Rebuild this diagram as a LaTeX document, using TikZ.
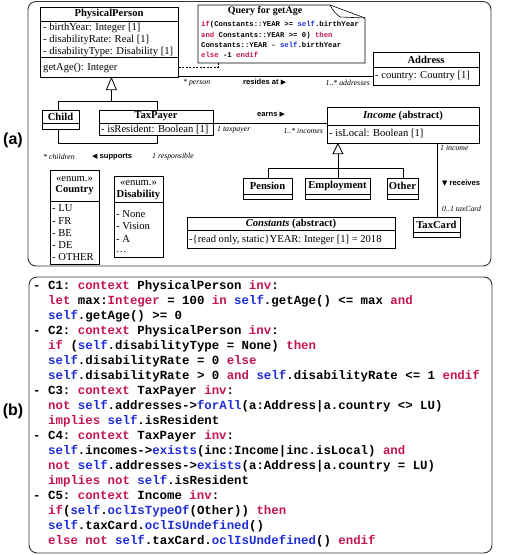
\documentclass[tikz,border=0pt]{standalone}
\usepackage{fontspec}
\setmainfont{Liberation Serif}
\newfontfamily\lsans{Liberation Sans}
\newfontfamily\dvs{DejaVu Sans}
\newfontfamily\cdfont[WordSpace={1,0,0}]{Liberation Mono}
\usetikzlibrary{calc}
\definecolor{kw}{RGB}{196,22,78}
\definecolor{bl}{RGB}{30,45,214}
\newcommand\K[1]{\textcolor{kw}{#1}}
\newcommand\B[1]{\textcolor{bl}{#1}}
\newcommand\clsf{\fontsize{10.6}{12}\selectfont}
\newcommand\rolef{\fontsize{7.8}{9}\selectfont\itshape}
\newcommand\assf{\lsans\bfseries\fontsize{7.6}{9}\selectfont}
\newcommand\trif{\dvs\fontsize{7}{9}\selectfont}
\tikzset{
  cls/.style={draw, line width=0.8pt, inner sep=0pt, anchor=north west},
  ln/.style={line width=0.8pt},
  tx/.style={inner sep=0pt, anchor=west, font=\clsf},
  tt/.style={inner sep=0pt, anchor=center, font=\clsf\bfseries},
  role/.style={inner sep=0pt, anchor=west, font=\rolef},
  ass/.style={inner sep=0pt, anchor=west, font=\assf},
  frame/.style={draw=black!80, line width=0.9pt, rounded corners=8pt},
  code/.style={inner sep=0pt, anchor=west, text height=8pt, text depth=2.5pt, font=\cdfont\bfseries\fontsize{12.4}{15}\selectfont\frenchspacing},
  ncode/.style={inner sep=0pt, anchor=west, text height=5pt, text depth=1.5pt, font=\cdfont\bfseries\fontsize{7.3}{9}\selectfont\frenchspacing},
  lab/.style={inner sep=0pt, font=\lsans\bfseries\fontsize{16}{18}\selectfont},
  gen/.style={line width=0.8pt, fill=white}
}
\begin{document}
\begin{tikzpicture}[x=1pt,y=-1pt]
\useasboundingbox (0,0) rectangle (505,555);
% frames
\draw[frame] (28,1.5) rectangle (491,266);
\draw[frame] (29,277) rectangle (492,553);
\node[lab] (la) at (13,140) {(a)};
\node[lab] (lb) at (13,411) {(b)};

% PhysicalPerson
\node[cls, minimum width=138pt, minimum height=70pt] (pp) at (40,7) {};
\draw[ln] (40,21) -- (178,21);
\draw[ln] (40,57) -- (178,57);
\node[tt] (ppT) at (109,14) {PhysicalPerson};
\node[tx] (ppA1) at (43,27.5) {- birthYear: Integer [1]};
\node[tx] (ppA2) at (43,40) {- disabilityRate: Real [1]};
\node[tx] (ppA3) at (43,52) {- disabilityType: Disability [1]};
\node[tx] (ppM) at (43,67.5) {getAge(): Integer};

% Address
\node[cls, minimum width=106pt, minimum height=33pt] (addr) at (373,52) {};
\draw[ln] (373,67) -- (479,67);
\node[tt] (addrT) at (426,59.5) {Address};
\node[tx] (addrA) at (375,75.5) {- country: Country [1]};

% Child
\node[cls, minimum width=37pt, minimum height=19pt] (child) at (42,110) {};
\draw[ln] (42,123) -- (79,123);
\node[tt] (childT) at (60.5,116.5) {Child};

% TaxPayer
\node[cls, minimum width=114pt, minimum height=25pt] (tp) at (99,110) {};
\draw[ln] (99,123) -- (213,123);
\node[tt] (tpT) at (156,116.5) {TaxPayer};
\node[tx] (tpA) at (101,129.5) {- isResident: Boolean [1]};

% Income
\node[cls, minimum width=152pt, minimum height=36pt] (inc) at (327,107) {};
\draw[ln] (327,125) -- (479,125);
\node[tt] (incT) at (403,116) {\textit{Income} (abstract)};
\node[tx] (incA) at (329,134) {- isLocal: Boolean [1]};

% Pension, Employment, Other
\node[cls, minimum width=49pt, minimum height=21pt] (pen) at (243,178) {};
\draw[ln] (243,194) -- (292,194);
\node[tt] (penT) at (267.5,186) {Pension};
\node[cls, minimum width=65pt, minimum height=21pt] (emp) at (305,178) {};
\draw[ln] (305,194) -- (370,194);
\node[tt] (empT) at (337.5,186) {Employment};
\node[cls, minimum width=31pt, minimum height=21pt] (oth) at (387,178) {};
\draw[ln] (387,194) -- (418,194);
\node[tt] (othT) at (402.5,186) {Other};

% TaxCard
\node[cls, minimum width=47pt, minimum height=20pt] (tc) at (413,217) {};
\draw[ln] (413,232) -- (460,232);
\node[tt] (tcT) at (436.5,224.5) {TaxCard};

% Constants
\node[cls, minimum width=208pt, minimum height=31pt] (cst) at (187,217) {};
\draw[ln] (187,230) -- (395,230);
\node[tt] (cstT) at (291,223.5) {\textit{Constants} (abstract)};
\node[tx] (cstA) at (189,239.5) {-\{read only, static\}YEAR: Integer [1] = 2018};

% Country enum
\node[cls, minimum width=49pt, minimum height=94pt] (cty) at (50,170) {};
\draw[ln] (50,201) -- (99,201);
\node[inner sep=0pt, font=\clsf] (ctyS) at (74.5,179) {«enum.»};
\node[tt] (ctyT) at (74.5,190.5) {Country};
\node[tx] (cty1) at (52,208.5) {- LU};
\node[tx] (cty2) at (52,221) {- FR};
\node[tx] (cty3) at (52,233) {- BE};
\node[tx] (cty4) at (52,245.5) {- DE};
\node[tx] (cty5) at (52,257.5) {- OTHER};

% Disability enum
\node[cls, minimum width=49pt, minimum height=81pt] (dis) at (114,176) {};
\draw[ln] (114,202) -- (163,202);
\node[inner sep=0pt, font=\clsf] (disS) at (138.5,183.5) {«enum.»};
\node[tt] (disT) at (138.5,195) {Disability};
\node[tx] (dis1) at (116,214) {- None};
\node[tx] (dis2) at (116,226.5) {- Vision};
\node[tx] (dis3) at (116,238.5) {- A};
\node[tx, text height=2pt, text depth=0pt] (dis4) at (116,251.5) {…};

% Note
\draw[line width=0.6pt, fill=white] (198,5) -- (330,5) -- (365,18) -- (365,63) -- (198,63) -- cycle;
\draw[line width=0.6pt] (330,5) .. controls (334,12) .. (340,17) -- (365,18);
\node[inner sep=0pt, font=\fontsize{10}{12}\selectfont\bfseries] (noteT) at (265,11) {Query for getAge};
\node[ncode] (n1) at (201,25) {\K{if}(Constants::YEAR >= \B{self}.birthYear};
\node[ncode] (n2) at (201,35.5) {\K{and} Constants::YEAR >= 0) \K{then}};
\node[ncode] (n3) at (201,45.5) {Constants::YEAR - \B{self}.birthYear};
\node[ncode] (n4) at (201,56) {\K{else} -1 \K{endif}};
\coordinate (ncorner) at (218,63);
\draw[line width=0.6pt, dash pattern=on 2pt off 1.5pt] ([yshift=-25pt]pp.east) -| (ncorner);

% generalization PhysicalPerson
\coordinate (ppapex) at ([xshift=2pt]pp.south);
\draw[ln] ([xshift=-2.5pt]child.north) -- ++(0,-9) -| ([xshift=1pt]tp.north);
\draw[ln] ($(ppapex)+(0,12)$) -- ($(ppapex)+(0,24)$);
\draw[gen] (ppapex) -- ++(5,12) -- ++(-10,0) -- cycle;

% supports
\draw[ln] ([xshift=-2.5pt]child.south) -- ++(0,14) -| ([xshift=1pt]tp.south);
\node[role] (rch) at (43,157) {* children};
\node[ass] (sup) at (92,157) {{\trif ◀} supports};
\node[role] (rresp) at (152,157) {1 responsible};

% resides at
\draw[ln] ([yshift=1.5pt]pp.south east) -- ([yshift=1.5pt]pp.south east -| addr.west);
\node[role] (rper) at (183,83) {* person};
\node[ass] (res) at (243,82.5) {resides at {\trif ▶}};
\node[role, anchor=east] (radd) at (370,82.5) {1..* addresses};

% earns
\draw[ln] (tp.east) -- (tp.east -| inc.west);
\node[role] (rtp) at (217,129.5) {1 taxpayer};
\node[ass] (earn) at (257,115) {earns {\trif ▶}};
\node[role, anchor=east] (rinc) at (323,131) {1..* incomes};

% generalization Income
\coordinate (incapex) at (emp.north |- inc.south);
\draw[ln] (pen.north) -- ++(0,-10) -| (oth.north);
\draw[ln] ($(incapex)+(0,10)$) -- (emp.north);
\draw[gen] (incapex) -- ++(5,10) -- ++(-10,0) -- cycle;

% receives
\draw[ln] (tc.north) -- (tc.north |- inc.south);
\node[role] (rinc1) at (440,148) {1 income};
\node[ass] (rec) at (442,183) {{\trif ▼} receives};
\node[role] (rtc) at (442,209) {0..1 taxCard};

% OCL constraints
\node[code] (l1) at (33,287) {- C1: \K{context} PhysicalPerson \K{inv}:};
\node[code] (l2) at (48,302) {\K{let} max:\K{Integer} = 100 \K{in} \B{self}.getAge() <= max \K{and}};
\node[code] (l3) at (48,317) {\B{self}.getAge() >= 0};
\node[code] (l4) at (33,332) {- C2: \K{context} PhysicalPerson \K{inv}:};
\node[code] (l5) at (48,347) {\K{if} (\B{self}.disabilityType = None) \K{then}};
\node[code] (l6) at (48,362) {\B{self}.disabilityRate = 0 \K{else}};
\node[code] (l7) at (48,377) {\B{self}.disabilityRate > 0 \K{and} \B{self}.disabilityRate <= 1 \K{endif}};
\node[code] (l8) at (33,392) {- C3: \K{context} TaxPayer \K{inv}:};
\node[code] (l9) at (48,407) {\K{not} \B{self}.addresses->\B{forAll}(a:Address|a.country <> LU)};
\node[code] (l10) at (48,422) {\K{implies} \B{self}.isResident};
\node[code] (l11) at (33,437) {- C4: \K{context} TaxPayer \K{inv}:};
\node[code] (l12) at (48,452) {\B{self}.incomes->\B{exists}(inc:Income|inc.isLocal) \K{and}};
\node[code] (l13) at (48,467) {\K{not} \B{self}.addresses->\B{exists}(a:Address|a.country = LU)};
\node[code] (l14) at (48,482) {\K{implies} \K{not} \B{self}.isResident};
\node[code] (l15) at (33,497) {- C5: \K{context} Income \K{inv}:};
\node[code] (l16) at (48,512) {\K{if}(\B{self}.\B{oclIsTypeOf}(Other)) \K{then}};
\node[code] (l17) at (48,527) {\B{self}.taxCard.\B{oclIsUndefined}()};
\node[code] (l18) at (48,542) {\K{else} \K{not} \B{self}.taxCard.\B{oclIsUndefined}() \K{endif}};
\end{tikzpicture}
\end{document}
